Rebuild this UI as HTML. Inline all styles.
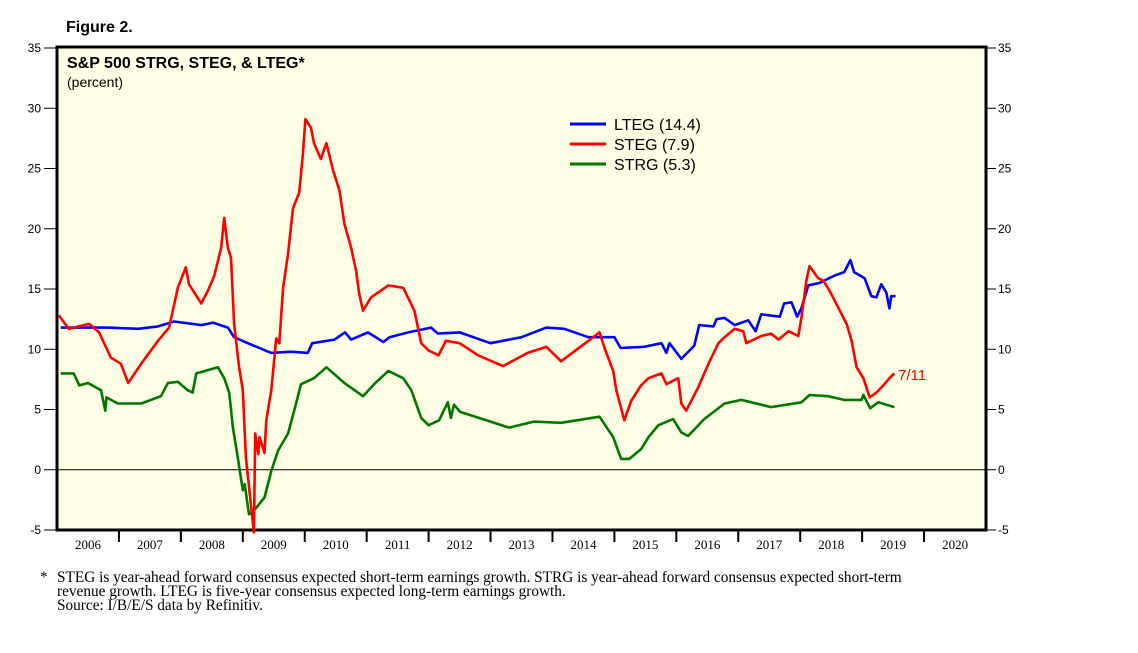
<!DOCTYPE html>
<html><head><meta charset="utf-8"><style>
body{margin:0;background:#fff;width:1138px;height:653px;overflow:hidden}
svg{display:block}
.sans{font-family:"Liberation Sans",sans-serif}
.serif{font-family:"Liberation Serif",serif}
</style></head><body>
<svg id="chart" width="1138" height="653">
<text x="66" y="32" class="sans" font-size="16" font-weight="bold">Figure 2.</text>
<rect x="57" y="47" width="929" height="483" fill="#ffffe6" stroke="#000" stroke-width="3"/>
<text x="67" y="68" class="sans" font-size="16" font-weight="bold">S&amp;P 500 STRG, STEG, &amp; LTEG*</text>
<text x="67" y="87" class="sans" font-size="14">(percent)</text>
<g id="axes"></g>
<g id="series"></g>
<g>
<line x1="570" y1="124" x2="606" y2="124" stroke="#0000ff" stroke-width="3"/>
<text x="614" y="130" class="sans" font-size="16">LTEG (14.4)</text>
<line x1="570" y1="144" x2="606" y2="144" stroke="#ff0000" stroke-width="3"/>
<text x="614" y="150" class="sans" font-size="16">STEG (7.9)</text>
<line x1="570" y1="164" x2="606" y2="164" stroke="#007700" stroke-width="3"/>
<text x="614" y="170" class="sans" font-size="16">STRG (5.3)</text>
</g>
<text x="898" y="380" class="sans" font-size="15" fill="#ff0000">7/11</text>
<g class="serif" font-size="15.3">
<text x="40" y="582">*</text>
<text x="57" y="582">STEG is year-ahead forward consensus expected short-term earnings growth. STRG is year-ahead forward consensus expected short-term</text>
<text x="57" y="596">revenue growth. LTEG is five-year consensus expected long-term earnings growth.</text>
<text x="57" y="610">Source: I/B/E/S data by Refinitiv.</text>
</g>
</svg>
<script>
const yTicks=[-5,0,5,10,15,20,25,30,35];
const years=[2006,2007,2008,2009,2010,2011,2012,2013,2014,2015,2016,2017,2018,2019,2020];
const stegT=[2006.03,2006.19,2006.52,2006.68,2006.87,2007.03,2007.15,2007.36,2007.63,2007.81,2007.95,2008.08,2008.13,2008.33,2008.44,2008.54,2008.65,2008.70,2008.76,2008.81,2008.86,2008.94,2009.0,2009.05,2009.18,2009.20,2009.25,2009.27,2009.35,2009.38,2009.46,2009.54,2009.59,2009.65,2009.73,2009.81,2009.91,2009.97,2010.01,2010.10,2010.15,2010.26,2010.35,2010.46,2010.56,2010.64,2010.75,2010.83,2010.88,2010.94,2011.07,2011.35,2011.59,2011.77,2011.88,2012.0,2012.16,2012.28,2012.5,2012.8,2013.2,2013.6,2013.9,2014.14,2014.58,2014.76,2014.84,2014.98,2015.03,2015.16,2015.27,2015.43,2015.55,2015.76,2015.84,2016.03,2016.08,2016.16,2016.35,2016.52,2016.68,2016.78,2016.94,2017.08,2017.13,2017.37,2017.53,2017.65,2017.81,2017.97,2018.02,2018.10,2018.15,2018.29,2018.37,2018.47,2018.62,2018.75,2018.83,2018.91,2019.02,2019.12,2019.23,2019.36,2019.44,2019.52];
const stegV=[12.8,11.7,12.1,11.4,9.3,8.8,7.2,8.8,10.7,11.8,15.1,16.8,15.4,13.8,14.9,16.1,18.4,20.9,18.4,17.6,12.1,8.5,6.6,1.0,-5.2,3.0,1.3,2.7,1.4,4.1,6.6,10.9,10.5,15.1,17.9,21.7,23.0,26.2,29.1,28.4,27.1,25.8,27.1,24.8,23.2,20.4,18.4,16.5,14.6,13.2,14.3,15.3,15.1,13.2,10.5,9.9,9.5,10.7,10.5,9.5,8.6,9.7,10.2,9.0,10.7,11.4,10.1,8.2,6.6,4.1,5.7,7.0,7.6,8.0,7.1,7.6,5.5,4.9,6.8,8.8,10.5,11.0,11.7,11.5,10.5,11.1,11.3,10.8,11.5,11.1,12.6,15.7,16.9,15.9,15.7,14.9,13.4,12.1,10.7,8.5,7.6,6.0,6.4,7.1,7.6,8.0];
const ltegT=[2006.06,2006.82,2007.31,2007.63,2007.89,2008.33,2008.52,2008.76,2008.86,2009.08,2009.46,2009.78,2010.05,2010.12,2010.48,2010.65,2010.75,2011.02,2011.27,2011.37,2011.67,2012.04,2012.15,2012.5,2013.0,2013.5,2013.9,2014.19,2014.58,2015.0,2015.10,2015.48,2015.76,2015.84,2015.89,2016.08,2016.29,2016.37,2016.6,2016.65,2016.78,2016.94,2017.16,2017.28,2017.37,2017.67,2017.74,2017.86,2017.95,2018.02,2018.13,2018.31,2018.55,2018.71,2018.81,2018.87,2019.04,2019.15,2019.23,2019.31,2019.39,2019.44,2019.47,2019.54];
const ltegV=[11.8,11.8,11.7,11.9,12.3,12.0,12.2,11.8,11.0,10.5,9.7,9.8,9.7,10.5,10.8,11.4,10.8,11.4,10.6,11.0,11.4,11.8,11.3,11.4,10.5,11.0,11.8,11.7,11.0,11.0,10.1,10.2,10.5,9.7,10.5,9.2,10.3,12.0,11.9,12.5,12.6,12.0,12.4,11.5,12.9,12.7,13.8,13.9,12.7,13.4,15.3,15.5,16.1,16.4,17.4,16.4,15.9,14.4,14.3,15.4,14.7,13.4,14.4,14.4];
const strgT=[2006.06,2006.27,2006.36,2006.5,2006.71,2006.78,2006.8,2006.98,2007.36,2007.68,2007.79,2007.95,2008.11,2008.19,2008.25,2008.6,2008.7,2008.78,2008.84,2008.92,2009.0,2009.03,2009.1,2009.21,2009.35,2009.46,2009.57,2009.73,2009.83,2009.94,2010.15,2010.35,2010.64,2010.94,2011.12,2011.35,2011.59,2011.72,2011.88,2012.0,2012.17,2012.31,2012.36,2012.41,2012.51,2013.0,2013.3,2013.7,2014.14,2014.76,2014.98,2015.11,2015.24,2015.43,2015.55,2015.71,2015.95,2016.08,2016.19,2016.45,2016.78,2017.05,2017.53,2018.02,2018.15,2018.45,2018.71,2018.99,2019.02,2019.13,2019.26,2019.52];
const strgV=[8.0,8.0,7.0,7.2,6.6,4.9,6.0,5.5,5.5,6.1,7.2,7.3,6.6,6.4,8.0,8.5,7.6,6.4,3.5,1.0,-1.7,-1.2,-3.7,-3.2,-2.3,-0.1,1.6,3.0,4.9,7.1,7.6,8.5,7.2,6.1,7.1,8.2,7.6,6.6,4.3,3.7,4.1,5.6,4.3,5.4,4.8,4.0,3.5,4.0,3.9,4.4,2.7,0.9,0.9,1.7,2.7,3.7,4.2,3.1,2.8,4.2,5.5,5.8,5.2,5.6,6.2,6.1,5.8,5.8,6.2,5.1,5.6,5.2];

const NS='http://www.w3.org/2000/svg';
const X0=57,X1=986,Y0=530,Y1=48;
const xs=t=>X0+(t-2006)*(X1-X0)/15;
const ys=v=>Y0-(v+5)*(Y0-Y1)/40;
const axes=document.getElementById('axes');
function mk(tag,attrs,parent){const e=document.createElementNS(NS,tag);for(const k in attrs)e.setAttribute(k,attrs[k]);parent.appendChild(e);return e;}
yTicks.forEach(v=>{
  const y=ys(v);
  const tl=mk('line',{x1:44,x2:X0,y1:y,y2:y,stroke:'#000','stroke-width':1},axes);
  
  
  const tr=mk('line',{x1:X1,x2:X1+10,y1:y,y2:y,stroke:'#000','stroke-width':1},axes);
  
  
  const a=mk('text',{x:41,y:y+4,'text-anchor':'end','font-size':12,'font-family':'Liberation Sans,sans-serif'},axes);a.textContent=v;
  
  
  const b=mk('text',{x:X1+12,y:y+4,'font-size':12,'font-family':'Liberation Sans,sans-serif'},axes);b.textContent=v;
  
  
});
const z=mk('line',{x1:X0,x2:X1,y1:ys(0),y2:ys(0),stroke:'#000','stroke-width':1},axes);


years.forEach(yr=>{
  const x=xs(yr);
  if(yr>2006){const t=mk('line',{x1:x,x2:x,y1:Y0,y2:Y0+12,stroke:'#000','stroke-width':2},axes);
  
  }
  const l=mk('text',{x:x+31,y:549,'text-anchor':'middle','font-size':13,'font-family':'Liberation Serif,serif'},axes);l.textContent=yr;
  
  
});
const sg=document.getElementById('series');
function line(T,V,color,name){
  const d=T.map((t,i)=>(i?'L':'M')+xs(t).toFixed(1)+','+ys(V[i]).toFixed(1)).join(' ');
  const p=mk('path',{d:d,fill:'none',stroke:color,'stroke-width':2.6,'stroke-linejoin':'round'},sg);
  
  
}
line(strgT,strgV,'#007700','strg-line');
line(ltegT,ltegV,'#0000ff','lteg-line');
line(stegT,stegV,'#ff0000','steg-line');
</script>
</body></html>
